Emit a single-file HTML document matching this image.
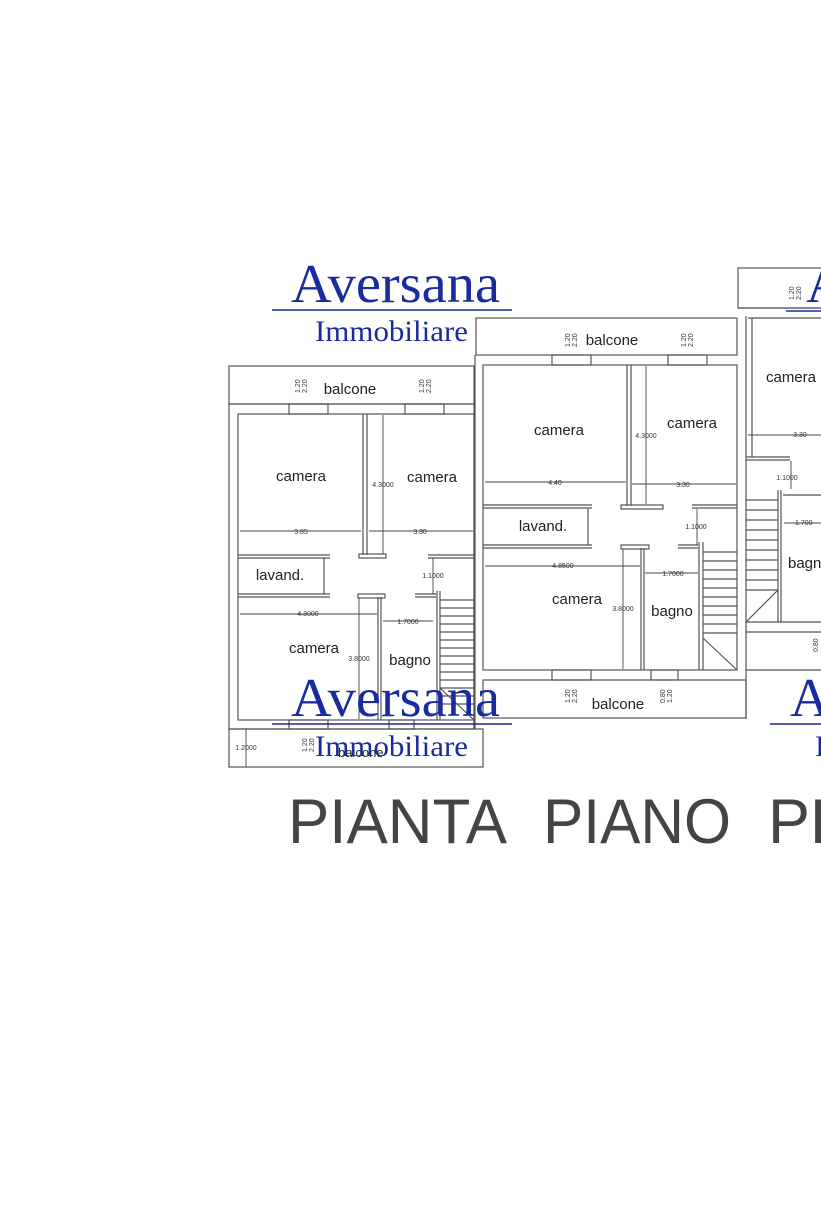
<!DOCTYPE html>
<html><head><meta charset="utf-8"><style>
html,body{margin:0;padding:0;background:#fff;width:821px;height:1232px;overflow:hidden}
svg{display:block}
.w{fill:none;stroke:#555;stroke-width:1.2}
.d{fill:none;stroke:#444;stroke-width:0.9}
.t{font-family:"Liberation Sans",sans-serif;fill:#222}
.s{font-family:"Liberation Sans",sans-serif;fill:#333;font-size:7px}
.av{font-family:"Liberation Serif",serif;fill:#1a2aa0}
</style></head><body>
<svg width="821" height="1232" viewBox="0 0 821 1232" xmlns="http://www.w3.org/2000/svg">
<!-- LEFT UNIT -->
<rect class="w" x="229" y="366" width="245" height="38"/>
<rect class="w" x="229" y="404" width="245" height="325"/>
<rect class="w" x="238" y="414" width="236" height="306"/>
<rect class="w" x="289" y="404" width="39" height="10"/>
<rect class="w" x="405" y="404" width="39" height="10"/>
<line class="w" x1="363" y1="414" x2="363" y2="555"/><line class="w" x1="367" y1="414" x2="367" y2="555"/>
<line class="w" x1="238" y1="555" x2="330" y2="555"/><line class="w" x1="238" y1="558" x2="330" y2="558"/>
<rect class="w" x="359" y="554" width="27" height="4"/>
<line class="w" x1="428" y1="555" x2="474" y2="555"/><line class="w" x1="428" y1="558" x2="474" y2="558"/>
<line class="w" x1="238" y1="594" x2="330" y2="594"/><line class="w" x1="238" y1="597" x2="330" y2="597"/>
<rect class="w" x="358" y="594" width="27" height="4"/>
<line class="w" x1="415" y1="594" x2="436" y2="594"/><line class="w" x1="415" y1="597" x2="436" y2="597"/>
<line class="w" x1="324" y1="558" x2="324" y2="594"/>
<line class="w" x1="378" y1="597" x2="378" y2="720"/><line class="w" x1="381" y1="597" x2="381" y2="720"/>
<line class="w" x1="437" y1="591" x2="437" y2="720"/><line class="w" x1="440" y1="591" x2="440" y2="720"/>
<g class="w"><line x1="440" y1="600" x2="474" y2="600"/><line x1="440" y1="608" x2="474" y2="608"/><line x1="440" y1="616" x2="474" y2="616"/><line x1="440" y1="624" x2="474" y2="624"/><line x1="440" y1="632" x2="474" y2="632"/><line x1="440" y1="640" x2="474" y2="640"/><line x1="440" y1="648" x2="474" y2="648"/><line x1="440" y1="656" x2="474" y2="656"/><line x1="440" y1="664" x2="474" y2="664"/><line x1="440" y1="672" x2="474" y2="672"/><line x1="440" y1="680" x2="474" y2="680"/><line x1="440" y1="688" x2="474" y2="688"/><line x1="440" y1="696" x2="474" y2="696"/><line x1="440" y1="704" x2="474" y2="704"/><line x1="440" y1="688" x2="474" y2="720"/></g>
<rect class="w" x="229" y="729" width="254" height="38"/>
<rect class="w" x="289" y="720" width="39" height="9"/><rect class="w" x="389" y="720" width="25" height="9"/>
<g class="d"><line x1="240" y1="531" x2="361" y2="531"/><line x1="369" y1="531" x2="473" y2="531"/><line x1="383" y1="415" x2="383" y2="554"/><line x1="240" y1="614" x2="377" y2="614"/><line x1="383" y1="621" x2="433" y2="621"/><line x1="359" y1="598" x2="359" y2="719"/><line x1="433" y1="558" x2="433" y2="594"/><line x1="246" y1="729" x2="246" y2="767"/></g>
<text class="t" x="301" y="481" font-size="15" text-anchor="middle">camera</text>
<text class="t" x="432" y="482" font-size="15" text-anchor="middle">camera</text>
<text class="t" x="280" y="580" font-size="15" text-anchor="middle">lavand.</text>
<text class="t" x="314" y="653" font-size="15" text-anchor="middle">camera</text>
<text class="t" x="410" y="665" font-size="15" text-anchor="middle">bagno</text>
<text class="t" x="350" y="394" font-size="15" text-anchor="middle">balcone</text>
<text class="s" x="301" y="534" text-anchor="middle">3.85</text>
<text class="s" x="420" y="534" text-anchor="middle">3.30</text>
<text class="s" x="383" y="487" text-anchor="middle">4.3000</text>
<text class="s" x="433" y="578" text-anchor="middle">1.1000</text>
<text class="s" x="308" y="616" text-anchor="middle">4.3000</text>
<text class="s" x="408" y="624" text-anchor="middle">1.7000</text>
<text class="s" x="359" y="661" text-anchor="middle">3.8000</text>
<text class="s" x="246" y="750" text-anchor="middle">1.2000</text>
<!-- MIDDLE UNIT -->
<rect class="w" x="476" y="318" width="261" height="37"/>
<line class="w" x1="475" y1="355" x2="475" y2="729"/><line class="w" x1="746" y1="316" x2="746" y2="719"/>
<rect class="w" x="483" y="365" width="254" height="305"/>
<rect class="w" x="552" y="355" width="39" height="10"/><rect class="w" x="668" y="355" width="39" height="10"/>
<line class="w" x1="627" y1="365" x2="627" y2="506"/><line class="w" x1="631" y1="365" x2="631" y2="506"/>
<line class="w" x1="483" y1="505" x2="592" y2="505"/><line class="w" x1="483" y1="508" x2="592" y2="508"/>
<rect class="w" x="621" y="505" width="42" height="4"/>
<line class="w" x1="692" y1="505" x2="737" y2="505"/><line class="w" x1="692" y1="508" x2="737" y2="508"/>
<line class="w" x1="483" y1="545" x2="592" y2="545"/><line class="w" x1="483" y1="548" x2="592" y2="548"/>
<rect class="w" x="621" y="545" width="28" height="4"/>
<line class="w" x1="678" y1="545" x2="698" y2="545"/><line class="w" x1="678" y1="548" x2="698" y2="548"/>
<line class="w" x1="588" y1="509" x2="588" y2="545"/>
<line class="w" x1="641" y1="548" x2="641" y2="670"/><line class="w" x1="644" y1="548" x2="644" y2="670"/>
<line class="w" x1="699" y1="542" x2="699" y2="670"/><line class="w" x1="703" y1="542" x2="703" y2="670"/>
<g class="w"><line x1="703" y1="552" x2="737" y2="552"/><line x1="703" y1="561" x2="737" y2="561"/><line x1="703" y1="570" x2="737" y2="570"/><line x1="703" y1="579" x2="737" y2="579"/><line x1="703" y1="588" x2="737" y2="588"/><line x1="703" y1="597" x2="737" y2="597"/><line x1="703" y1="606" x2="737" y2="606"/><line x1="703" y1="615" x2="737" y2="615"/><line x1="703" y1="624" x2="737" y2="624"/><line x1="703" y1="633" x2="737" y2="633"/><line x1="703" y1="638" x2="737" y2="670"/></g>
<rect class="w" x="483" y="680" width="263" height="38"/>
<rect class="w" x="552" y="670" width="39" height="10"/><rect class="w" x="651" y="670" width="27" height="10"/>
<g class="d"><line x1="485" y1="482" x2="626" y2="482"/><line x1="632" y1="484" x2="736" y2="484"/><line x1="646" y1="366" x2="646" y2="504"/><line x1="485" y1="566" x2="640" y2="566"/><line x1="645" y1="573" x2="698" y2="573"/><line x1="623" y1="549" x2="623" y2="669"/><line x1="697" y1="509" x2="697" y2="545"/></g>
<text class="t" x="559" y="435" font-size="15" text-anchor="middle">camera</text>
<text class="t" x="692" y="428" font-size="15" text-anchor="middle">camera</text>
<text class="t" x="543" y="531" font-size="15" text-anchor="middle">lavand.</text>
<text class="t" x="577" y="604" font-size="15" text-anchor="middle">camera</text>
<text class="t" x="672" y="616" font-size="15" text-anchor="middle">bagno</text>
<text class="t" x="612" y="345" font-size="15" text-anchor="middle">balcone</text>
<text class="t" x="618" y="709" font-size="15" text-anchor="middle">balcone</text>
<text class="s" x="555" y="485" text-anchor="middle">4.40</text>
<text class="s" x="683" y="487" text-anchor="middle">3.30</text>
<text class="s" x="646" y="438" text-anchor="middle">4.3000</text>
<text class="s" x="696" y="529" text-anchor="middle">1.1000</text>
<text class="s" x="563" y="568" text-anchor="middle">4.8500</text>
<text class="s" x="673" y="576" text-anchor="middle">1.7000</text>
<text class="s" x="623" y="611" text-anchor="middle">3.8000</text>
<!-- RIGHT UNIT -->
<rect class="w" x="738" y="268" width="90" height="40"/>
<line class="w" x1="738" y1="308" x2="821" y2="308"/>
<line class="w" x1="748" y1="318" x2="821" y2="318"/><line class="w" x1="752" y1="318" x2="752" y2="457"/>
<line class="w" x1="746" y1="457" x2="790" y2="457"/><line class="w" x1="746" y1="460" x2="790" y2="460"/>
<line class="w" x1="778" y1="490" x2="778" y2="622"/><line class="w" x1="781" y1="490" x2="781" y2="622"/>
<g class="w"><line x1="746" y1="500" x2="778" y2="500"/><line x1="746" y1="510" x2="778" y2="510"/><line x1="746" y1="520" x2="778" y2="520"/><line x1="746" y1="530" x2="778" y2="530"/><line x1="746" y1="540" x2="778" y2="540"/><line x1="746" y1="550" x2="778" y2="550"/><line x1="746" y1="560" x2="778" y2="560"/><line x1="746" y1="570" x2="778" y2="570"/><line x1="746" y1="580" x2="778" y2="580"/><line x1="746" y1="590" x2="778" y2="590"/><line x1="746" y1="622" x2="778" y2="590"/></g>
<line class="w" x1="746" y1="622" x2="821" y2="622"/><line class="w" x1="746" y1="632" x2="821" y2="632"/><line class="w" x1="746" y1="670" x2="821" y2="670"/>
<line class="w" x1="783" y1="495" x2="821" y2="495"/>
<g class="d"><line x1="748" y1="435" x2="821" y2="435"/><line x1="784" y1="523" x2="821" y2="523"/><line x1="791" y1="461" x2="791" y2="489"/></g>
<text class="t" x="791" y="382" font-size="15" text-anchor="middle">camera</text>
<text class="t" x="788" y="568" font-size="15">bagn</text>
<text class="s" x="800" y="437" text-anchor="middle">3.30</text>
<text class="s" x="787" y="480" text-anchor="middle">1.1000</text>
<text class="s" x="795" y="525">1.700</text>
<!-- small stacked dims -->
<g class="s" font-size="8">
<text transform="translate(300,393) rotate(-90)">1.20</text><text transform="translate(307,393) rotate(-90)">2.20</text>
<text transform="translate(424,393) rotate(-90)">1.20</text><text transform="translate(431,393) rotate(-90)">2.20</text>
<text transform="translate(570,347) rotate(-90)">1.20</text><text transform="translate(577,347) rotate(-90)">2.20</text>
<text transform="translate(686,347) rotate(-90)">1.20</text><text transform="translate(693,347) rotate(-90)">2.20</text>
<text transform="translate(570,703) rotate(-90)">1.20</text><text transform="translate(577,703) rotate(-90)">2.20</text>
<text transform="translate(665,703) rotate(-90)">0.80</text><text transform="translate(672,703) rotate(-90)">1.20</text>
<text transform="translate(307,752) rotate(-90)">1.20</text><text transform="translate(314,752) rotate(-90)">2.20</text>
<text transform="translate(794,300) rotate(-90)">1.20</text><text transform="translate(801,300) rotate(-90)">2.20</text>
<text transform="translate(818,652) rotate(-90)">0.80</text>
</g>
<text class="t" x="338" y="757" font-size="13">balcone</text>
<!-- WATERMARKS -->
<g class="av">
<text x="291" y="302" font-size="55" textLength="209" lengthAdjust="spacingAndGlyphs">Aversana</text>
<text x="315" y="341" font-size="30" textLength="153" lengthAdjust="spacingAndGlyphs">Immobiliare</text>
<text x="291" y="716" font-size="55" textLength="209" lengthAdjust="spacingAndGlyphs">Aversana</text>
<text x="315" y="756" font-size="30" textLength="153" lengthAdjust="spacingAndGlyphs">Immobiliare</text>
<text x="806" y="302" font-size="55">A</text>
<text x="790" y="716" font-size="55">Aversana</text>
<text x="815" y="756" font-size="30">I</text>
</g>
<line x1="272" y1="310" x2="512" y2="310" stroke="#1a2aa0" stroke-width="1.5"/>
<line x1="272" y1="724" x2="512" y2="724" stroke="#1a2aa0" stroke-width="1.5"/>
<line x1="786" y1="311" x2="821" y2="311" stroke="#1a2aa0" stroke-width="1.5"/>
<line x1="770" y1="724" x2="821" y2="724" stroke="#1a2aa0" stroke-width="1.5"/>
<!-- TITLE -->
<g font-family="Liberation Sans, sans-serif" fill="#444" font-size="63">
<text x="288" y="843" textLength="219" lengthAdjust="spacingAndGlyphs">PIANTA</text>
<text x="543" y="843" textLength="188" lengthAdjust="spacingAndGlyphs">PIANO</text>
<text x="768" y="843">PRIMO</text>
</g>
</svg>
</body></html>
